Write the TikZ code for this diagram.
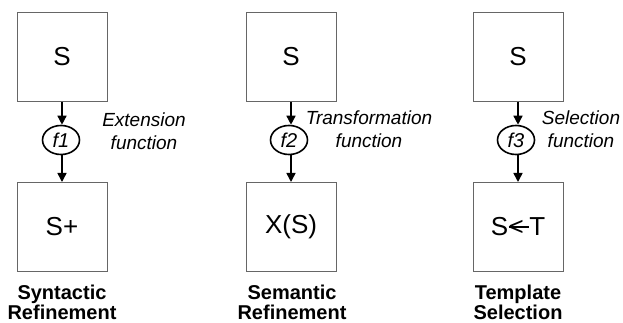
\documentclass[tikz,border=0pt]{standalone}
\usepackage{fontspec}
\setmainfont{Liberation Sans}
\usetikzlibrary{arrows.meta,shapes.geometric}
\newcommand{\leftarr}{\kern0.5pt\rlap{\raisebox{0pt}{<}}\rule[0.315em]{0.78em}{0.075em}\kern0.5pt}
\begin{document}
\begin{tikzpicture}[x=1pt,y=-1pt,
 box/.style={draw=black!60,line width=1pt,minimum width=90pt,minimum height=89pt,inner sep=0pt,font=\fontsize{26}{30}\selectfont},
 fn/.style={ellipse,draw=black,line width=1.6pt,minimum width=37pt,minimum height=29pt,inner sep=0pt,font=\itshape\fontsize{20}{22}\selectfont},
 desc/.style={align=center,inner sep=0pt,font=\itshape\fontsize{19}{23}\selectfont},
 paneltitle/.style={align=center,inner sep=0pt,font=\bfseries\fontsize{20}{20}\selectfont},
 flow/.style={line width=1.5pt,-{Triangle[length=9pt,width=9pt]}}]
\useasboundingbox (0,0) rectangle (623,323);
% panel 1
\node[box] (s1) at (62,57) {S};
\node[fn] (f1) at (61,140) {f1};
\node[box] (t1) at (62,227) {S+};
\node[desc] (d1) at (144,131) {Extension\\function};
\node[paneltitle] (l1) at (62,302) {Syntactic\\Refinement};
\draw[flow] (s1.south) -- (s1.south |- f1.north);
\draw[flow] (s1.south |- f1.south) -- (t1.north);
% panel 2
\node[box] (s2) at (291,57) {S};
\node[fn] (f2) at (289,140) {f2};
\node[box] (t2) at (291,227) {X(S)};
\node[desc] (d2) at (369,129) {Transformation\\function};
\node[paneltitle] (l2) at (292,302) {Semantic\\Refinement};
\draw[flow] (s2.south) -- (s2.south |- f2.north);
\draw[flow] (s2.south |- f2.south) -- (t2.north);
% panel 3
\node[box] (s3) at (518,57) {S};
\node[fn] (f3) at (516,140) {f3};
\node[box] (t3) at (518,227) {S\leftarr T};
\node[desc] (d3) at (581,129) {Selection\\function};
\node[paneltitle] (l3) at (518,302) {Template\\Selection};
\draw[flow] (s3.south) -- (s3.south |- f3.north);
\draw[flow] (s3.south |- f3.south) -- (t3.north);
\end{tikzpicture}
\end{document}
